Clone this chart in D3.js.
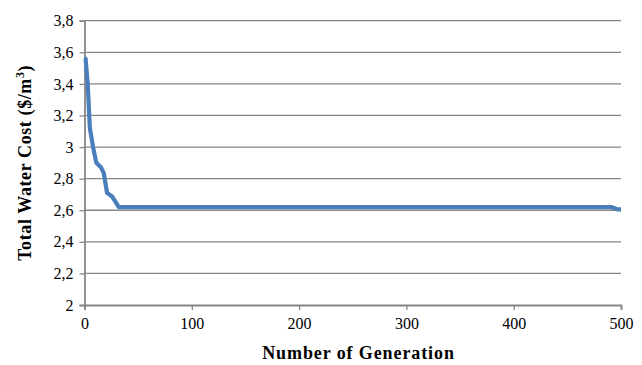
<!DOCTYPE html>
<html><head><meta charset="utf-8">
<script src="https://cdn.jsdelivr.net/npm/d3@7"></script>
<style>body{margin:0;background:#fff}svg{display:block}</style>
</head><body>
<svg id="c" width="642" height="365"></svg>
<script>
const generations = [0, 1, 3, 5, 8, 11, 15.5, 18, 21, 26, 32, 100, 200, 300, 400, 491, 497, 500];
const cost = [3.56, 3.56, 3.40, 3.12, 3.00, 2.90, 2.87, 2.835, 2.71, 2.685, 2.62, 2.62, 2.62, 2.62, 2.62, 2.62, 2.605, 2.605];
const yTicks = [2, 2.2, 2.4, 2.6, 2.8, 3, 3.2, 3.4, 3.6, 3.8];
const xTicks = [0, 100, 200, 300, 400, 500];

const svg = d3.select("#c");
const x = d3.scaleLinear().domain([0, 500]).range([84.5, 621]);
const y = d3.scaleLinear().domain([2, 3.8]).range([305, 20.7]);
const font = "'Liberation Serif', 'Times New Roman', serif";

svg.append("g").selectAll("line").data(yTicks.slice(1)).join("line")
  .attr("x1", x(0)).attr("x2", x(500)).attr("y1", d => y(d)).attr("y2", d => y(d))
  .attr("stroke", "#868686").attr("stroke-width", 1.3);

const yAxis = svg.append("g").attr("transform", `translate(${x(0)},0)`)
  .call(d3.axisLeft(y).tickValues(yTicks).tickSize(5).tickPadding(6)
    .tickFormat(d => String(d).replace(".", ",")));
const xAxis = svg.append("g").attr("transform", `translate(0,${y(2)})`)
  .call(d3.axisBottom(x).tickValues(xTicks).tickSize(5).tickPadding(8));
[yAxis, xAxis].forEach(g => {
  g.attr("font-family", font).attr("font-size", 16);
  g.select(".domain").attr("stroke", "#868686").attr("stroke-width", 1.8);
  g.selectAll(".tick line").attr("stroke", "#868686").attr("stroke-width", 1.3);
  g.selectAll(".tick text").attr("fill", "#000");
});

const line = d3.line().x((d, i) => x(generations[i])).y(d => y(d));
svg.append("path").datum(cost).attr("d", line)
  .attr("fill", "none").attr("stroke", "#4a7ebb").attr("stroke-width", 4.2)
  .attr("stroke-linejoin", "round");

svg.append("text").attr("x", 358.5).attr("y", 359)
  .attr("text-anchor", "middle").attr("font-family", font).attr("font-size", 18)
  .attr("letter-spacing", 0.9)
  .attr("font-weight", "bold").text("Number of Generation");

const yt = svg.append("text").attr("transform", `translate(31,${(y(2) + y(3.8)) / 2}) rotate(-90)`)
  .attr("text-anchor", "middle").attr("font-family", font).attr("font-size", 18)
  .attr("letter-spacing", 0.6)
  .attr("font-weight", "bold");
yt.append("tspan").text("Total Water Cost ($/m");
yt.append("tspan").attr("dy", -7).attr("font-size", 12).text("3");
yt.append("tspan").attr("dy", 7).text(")");
</script>
</body></html>
